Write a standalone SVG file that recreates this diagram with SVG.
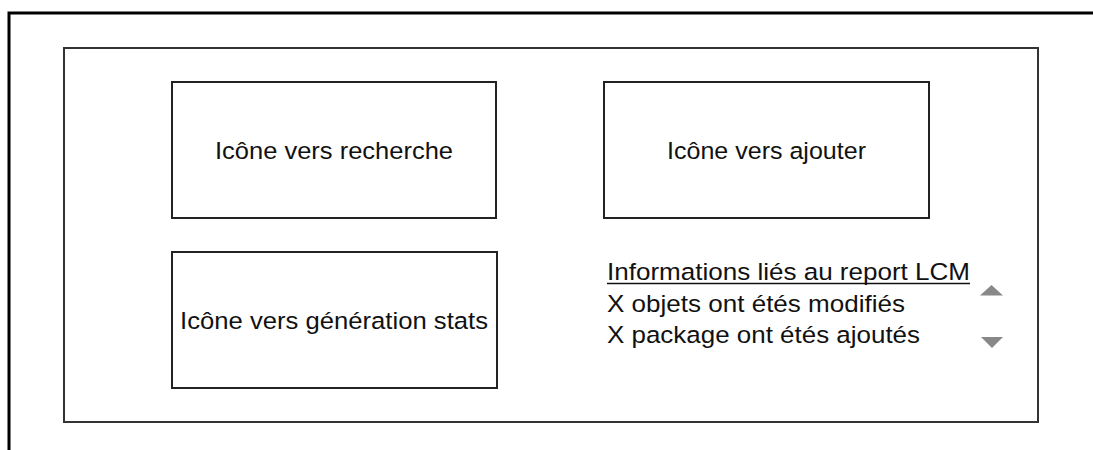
<svg xmlns="http://www.w3.org/2000/svg" width="1093" height="450" viewBox="0 0 1093 450">
<style>
.t{font-family:"Liberation Sans",Arial,sans-serif;font-size:24.5px;fill:#111}
.box{fill:#fff;stroke:#222;stroke-width:2}
.tri{fill:#888}
</style>
<rect width="1093" height="450" fill="#fff"/>
<path d="M9 450 V13 H1093" fill="none" stroke="#000" stroke-width="3"/>
<rect x="64" y="48" width="974" height="374" fill="#fff" stroke="#333" stroke-width="2"/>
<g id="recherche">
<rect class="box" x="172" y="82" width="324" height="136"/>
<text class="t" x="215" y="159" textLength="238" lengthAdjust="spacingAndGlyphs">Icône vers recherche</text>
</g>
<g id="ajouter">
<rect class="box" x="604" y="82" width="325" height="136"/>
<text class="t" x="667" y="159" textLength="199" lengthAdjust="spacingAndGlyphs">Icône vers ajouter</text>
</g>
<g id="stats">
<rect class="box" x="172" y="252" width="325" height="136"/>
<text class="t" x="180" y="329" textLength="308" lengthAdjust="spacingAndGlyphs">Icône vers génération stats</text>
</g>
<g id="infos">
<text class="t" x="607" y="280" textLength="363" lengthAdjust="spacingAndGlyphs">Informations liés au report LCM</text>
<line x1="607" y1="283.5" x2="970" y2="283.5" stroke="#111" stroke-width="1.5"/>
<text class="t" x="607" y="312" textLength="298" lengthAdjust="spacingAndGlyphs">X objets ont étés modifiés</text>
<text class="t" x="607" y="343" textLength="313" lengthAdjust="spacingAndGlyphs">X package ont étés ajoutés</text>
<polygon class="tri" points="980,295.5 1003,295.5 991.5,285"/>
<polygon class="tri" points="981,337 1003,337 992,348"/>
</g>
</svg>
